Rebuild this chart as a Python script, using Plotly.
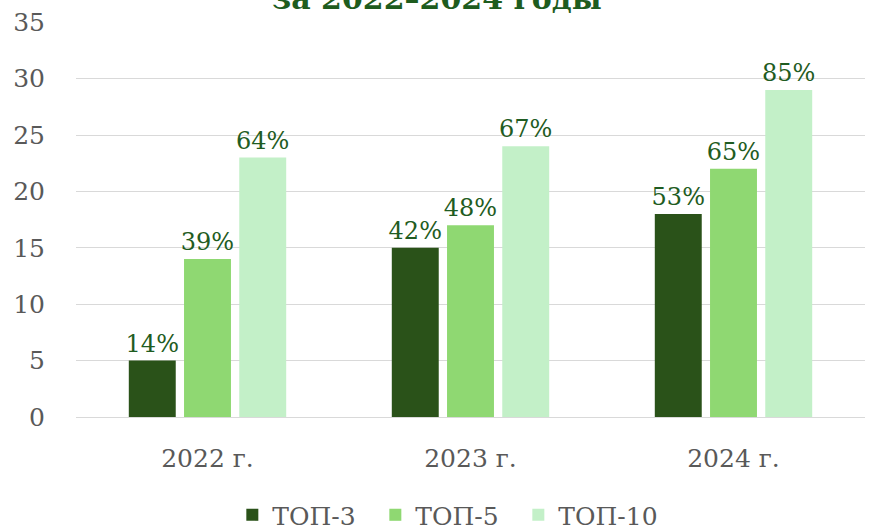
import plotly.graph_objects as go

categories = ["2022 г.", "2023 г.", "2024 г."]
series_names = ["ТОП-3", "ТОП-5", "ТОП-10"]
top3 = [5, 15, 18]
top5 = [14, 17, 22]
top10 = [23, 24, 29]
top3_labels = ["14%", "42%", "53%"]
top5_labels = ["39%", "48%", "65%"]
top10_labels = ["64%", "67%", "85%"]
y_ticks = [0, 5, 10, 15, 20, 25, 30, 35]

colors = ["#2A5219", "#8FD872", "#C3F0C8"]
label_color = "#1F5C22"
grey = "#595959"
serif = "DejaVu Serif, serif"

fig = go.Figure()
for name, vals, labels, col in zip(series_names, [top3, top5, top10],
                                   [top3_labels, top5_labels, top10_labels], colors):
    fig.add_trace(go.Bar(
        x=categories, y=vals, name=name, marker=dict(color=col, line=dict(width=0)),
        text=labels, textposition="outside", cliponaxis=False, constraintext="none",
        textfont=dict(family=serif, size=24, color=label_color),
    ))

# title is partly cut at the top edge, as in the source
fig.add_annotation(
    x=0.4575, y=1, xref="paper", yref="paper", xanchor="center", yanchor="bottom",
    yshift=4, text="<b>за 2022–2024 годы</b>", showarrow=False,
    font=dict(family=serif, size=30, color="#1E5C1E"),
)

fig.update_layout(
    width=874, height=530,
    margin=dict(l=76, r=9, t=22, b=113, autoexpand=False),
    paper_bgcolor="white", plot_bgcolor="white",
    barmode="group", bargap=0.37, bargroupgap=0.15,
    font=dict(family=serif, size=25, color=grey),
    xaxis=dict(tickfont=dict(size=25, color=grey), ticks="", showline=False,
               ticklabelstandoff=24, automargin=False),
    yaxis=dict(range=[0, 35.02], tickvals=y_ticks, showgrid=True, gridcolor="#D9D9D9",
               gridwidth=1, zeroline=True, zerolinecolor="#D9D9D9", zerolinewidth=1,
               tickfont=dict(size=25, color=grey), ticklabelstandoff=30, automargin=False),
    legend=dict(orientation="h", x=0.47, xanchor="center", y=-0.19, yanchor="top",
                font=dict(size=25, color=grey), itemwidth=30, entrywidth=98,
                traceorder="normal"),
    showlegend=True,
)

# drop the default 8px body margin so the figure sits at the window corner
fig.write_html("out.html", config={"displayModeBar": False},
               post_script="document.body.style.margin='0';")
